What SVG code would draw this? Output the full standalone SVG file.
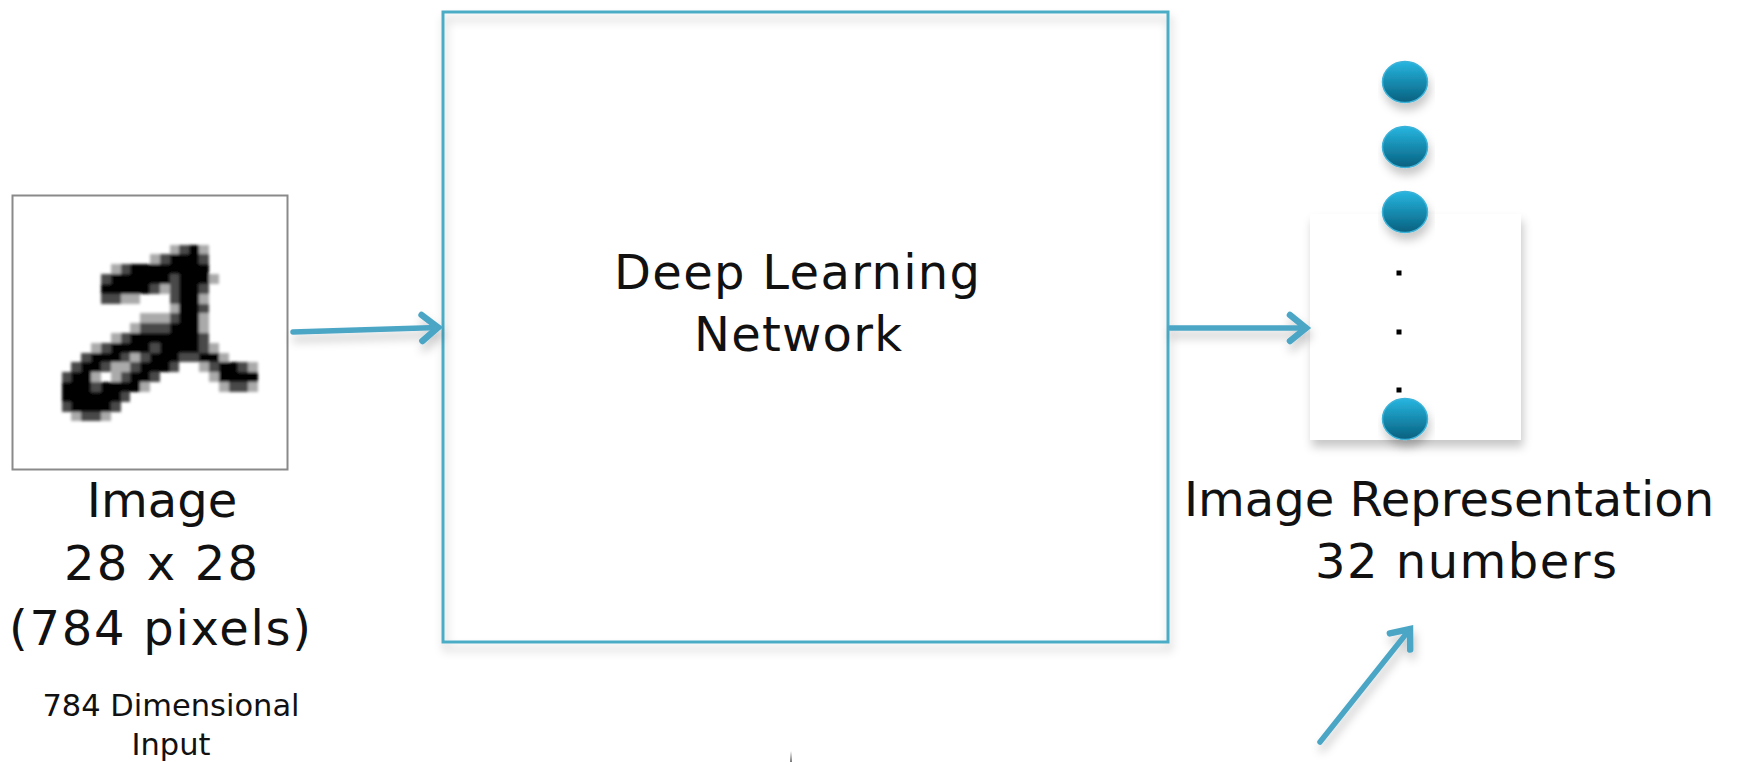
<svg xmlns="http://www.w3.org/2000/svg" width="1759" height="762" viewBox="0 0 1759 762">
  <style>
    .big{font-family:"DejaVu Sans",sans-serif;font-size:48px;fill:#111;text-anchor:middle}
    .small{font-family:"DejaVu Sans",sans-serif;font-size:30.5px;fill:#111;text-anchor:middle}
    .k{fill:#000}
    .m{fill:#4a4a4a}
    .l{fill:#aaa}
    .conn{fill:none;stroke:#4ba6c6;stroke-width:5.5;stroke-linecap:round;marker-end:url(#open)}
    .node{fill:url(#ball);stroke:#3cb2d8;stroke-width:1.5}
  </style>
  <defs>
    <filter id="shadow" x="-10%" y="-10%" width="125%" height="130%">
      <feDropShadow dx="2" dy="7" stdDeviation="5" flood-color="#000" flood-opacity="0.22"/>
    </filter>
    <filter id="soft" x="-5%" y="-5%" width="110%" height="110%">
      <feGaussianBlur stdDeviation="0.18"/>
    </filter>
    <linearGradient id="ball" x1="0" y1="0" x2="0" y2="1">
      <stop offset="0" stop-color="#27b6e0"/>
      <stop offset="1" stop-color="#07607f"/>
    </linearGradient>
    <linearGradient id="mark" x1="0" y1="0" x2="0" y2="1">
      <stop offset="0" stop-color="#fff"/>
      <stop offset="1" stop-color="#777"/>
    </linearGradient>
    <marker id="open" markerUnits="userSpaceOnUse" viewBox="-30 -20 40 40" markerWidth="40" markerHeight="40" refX="0" refY="0" orient="auto">
      <path d="M-16,-13 L0,0 L-16,13" fill="none" stroke="#4ba6c6" stroke-width="6.5" stroke-linecap="round"/>
    </marker>
  </defs>

  <rect width="1759" height="762" fill="#fff"/>

  <!-- input image: handwritten digit on a 28x28 grid -->
  <g id="input-image">
    <rect x="12.5" y="195.5" width="275" height="274" fill="#fff" stroke="#8a8a8a" stroke-width="2"/>
    <g transform="translate(12.5,195.5) scale(9.821)" filter="url(#soft)" shape-rendering="crispEdges">
      <rect class="l" x="16" y="5" width="1" height="1"/><rect class="m" x="17" y="5" width="1" height="1"/><rect class="k" x="18" y="5" width="1" height="1"/><rect class="l" x="19" y="5" width="1" height="1"/>
      <rect class="l" x="14" y="6" width="1" height="1"/><rect class="m" x="15" y="6" width="1" height="1"/><rect class="k" x="16" y="6" width="3" height="1"/><rect class="m" x="19" y="6" width="1" height="1"/>
      <rect class="l" x="10" y="7" width="1" height="1"/><rect class="m" x="11" y="7" width="1" height="1"/><rect class="k" x="12" y="7" width="8" height="1"/>
      <rect class="m" x="9" y="8" width="1" height="1"/><rect class="k" x="10" y="8" width="6" height="1"/><rect class="m" x="16" y="8" width="1" height="1"/><rect class="k" x="17" y="8" width="3" height="1"/><rect class="l" x="20" y="8" width="1" height="1"/>
      <rect class="k" x="9" y="9" width="5" height="1"/><rect class="m" x="14" y="9" width="1" height="1"/><rect class="l" x="15" y="9" width="1" height="1"/><rect class="m" x="16" y="9" width="1" height="1"/><rect class="k" x="17" y="9" width="2" height="1"/><rect class="m" x="19" y="9" width="1" height="1"/>
      <rect class="m" x="9" y="10" width="2" height="1"/><rect class="l" x="11" y="10" width="2" height="1"/><rect class="m" x="16" y="10" width="1" height="1"/><rect class="k" x="17" y="10" width="2" height="1"/><rect class="l" x="19" y="10" width="1" height="1"/>
      <rect class="l" x="16" y="11" width="1" height="1"/><rect class="k" x="17" y="11" width="2" height="1"/><rect class="m" x="19" y="11" width="1" height="1"/>
      <rect class="l" x="13" y="12" width="3" height="1"/><rect class="m" x="16" y="12" width="1" height="1"/><rect class="k" x="17" y="12" width="2" height="1"/><rect class="l" x="19" y="12" width="1" height="1"/>
      <rect class="l" x="12" y="13" width="1" height="1"/><rect class="m" x="13" y="13" width="3" height="1"/><rect class="k" x="16" y="13" width="3" height="1"/><rect class="l" x="19" y="13" width="1" height="1"/>
      <rect class="l" x="10" y="14" width="1" height="1"/><rect class="m" x="11" y="14" width="1" height="1"/><rect class="k" x="12" y="14" width="7" height="1"/><rect class="m" x="19" y="14" width="1" height="1"/>
      <rect class="l" x="8" y="15" width="1" height="1"/><rect class="m" x="9" y="15" width="1" height="1"/><rect class="k" x="10" y="15" width="4" height="1"/><rect class="m" x="14" y="15" width="1" height="1"/><rect class="k" x="15" y="15" width="4" height="1"/><rect class="m" x="19" y="15" width="1" height="1"/><rect class="l" x="20" y="15" width="1" height="1"/>
      <rect class="m" x="7" y="16" width="1" height="1"/><rect class="k" x="8" y="16" width="3" height="1"/><rect class="m" x="11" y="16" width="1" height="1"/><rect class="l" x="12" y="16" width="1" height="1"/><rect class="m" x="13" y="16" width="1" height="1"/><rect class="k" x="14" y="16" width="3" height="1"/><rect class="m" x="17" y="16" width="2" height="1"/><rect class="k" x="19" y="16" width="2" height="1"/><rect class="l" x="21" y="16" width="1" height="1"/>
      <rect class="m" x="6" y="17" width="1" height="1"/><rect class="k" x="7" y="17" width="2" height="1"/><rect class="m" x="9" y="17" width="1" height="1"/><rect class="l" x="10" y="17" width="2" height="1"/><rect class="m" x="12" y="17" width="1" height="1"/><rect class="k" x="13" y="17" width="3" height="1"/><rect class="m" x="16" y="17" width="1" height="1"/><rect class="l" x="19" y="17" width="1" height="1"/><rect class="m" x="20" y="17" width="1" height="1"/><rect class="k" x="21" y="17" width="2" height="1"/><rect class="m" x="23" y="17" width="1" height="1"/><rect class="l" x="24" y="17" width="1" height="1"/>
      <rect class="m" x="5" y="18" width="1" height="1"/><rect class="k" x="6" y="18" width="2" height="1"/><rect class="l" x="8" y="18" width="1" height="1"/><rect class="l" x="10" y="18" width="1" height="1"/><rect class="m" x="11" y="18" width="1" height="1"/><rect class="k" x="12" y="18" width="2" height="1"/><rect class="m" x="14" y="18" width="1" height="1"/><rect class="l" x="20" y="18" width="1" height="1"/><rect class="k" x="21" y="18" width="4" height="1"/>
      <rect class="k" x="5" y="19" width="3" height="1"/><rect class="m" x="8" y="19" width="1" height="1"/><rect class="k" x="9" y="19" width="4" height="1"/><rect class="l" x="13" y="19" width="1" height="1"/><rect class="l" x="21" y="19" width="1" height="1"/><rect class="m" x="22" y="19" width="2" height="1"/><rect class="l" x="24" y="19" width="1" height="1"/>
      <rect class="k" x="5" y="20" width="6" height="1"/><rect class="m" x="11" y="20" width="1" height="1"/>
      <rect class="m" x="5" y="21" width="1" height="1"/><rect class="k" x="6" y="21" width="4" height="1"/><rect class="m" x="10" y="21" width="1" height="1"/>
      <rect class="l" x="6" y="22" width="1" height="1"/><rect class="m" x="7" y="22" width="2" height="1"/><rect class="l" x="9" y="22" width="1" height="1"/>
    </g>
    <text class="big" x="162" y="517">Image</text>
    <text class="big" x="161" y="580" textLength="194">28 x 28</text>
    <text class="big" x="160" y="645" textLength="302">(784 pixels)</text>
    <text class="small" x="171" y="716">784 Dimensional</text>
    <text class="small" x="171" y="755">Input</text>
  </g>

  <!-- network box -->
  <g id="network">
    <rect x="443" y="12" width="725" height="630" fill="none" stroke="#4bacc6" stroke-width="3" filter="url(#shadow)"/>
    <text class="big" x="797" y="289" textLength="366">Deep Learning</text>
    <text class="big" x="798" y="351" textLength="208">Network</text>
  </g>

  <!-- output representation -->
  <g id="representation">
    <rect x="1310" y="214" width="211" height="226" fill="#fff" filter="url(#shadow)"/>
    <g filter="url(#shadow)">
      <ellipse class="node" cx="1405" cy="82" rx="22.5" ry="20.5"/>
      <ellipse class="node" cx="1405" cy="147" rx="22.5" ry="20.5"/>
      <ellipse class="node" cx="1405" cy="212" rx="22.5" ry="20.5"/>
      <ellipse class="node" cx="1405" cy="419" rx="22.5" ry="20.5"/>
    </g>
    <rect x="1396.5" y="270.5" width="5" height="5" fill="#000"/>
    <rect x="1396.5" y="329.5" width="5" height="5" fill="#000"/>
    <rect x="1396.5" y="387.5" width="5" height="5" fill="#000"/>
    <text class="big" x="1449" y="516">Image Representation</text>
    <text class="big" x="1466" y="578" textLength="302">32 numbers</text>
  </g>

  <!-- connectors -->
  <g id="connectors" filter="url(#shadow)">
    <line class="conn" x1="293" y1="332" x2="438" y2="327.5"/>
    <line class="conn" x1="1170" y1="328" x2="1306" y2="328"/>
    <line class="conn" x1="1320" y1="742" x2="1410" y2="629"/>
  </g>

  <rect x="790" y="751" width="2" height="11" fill="url(#mark)"/>
</svg>
